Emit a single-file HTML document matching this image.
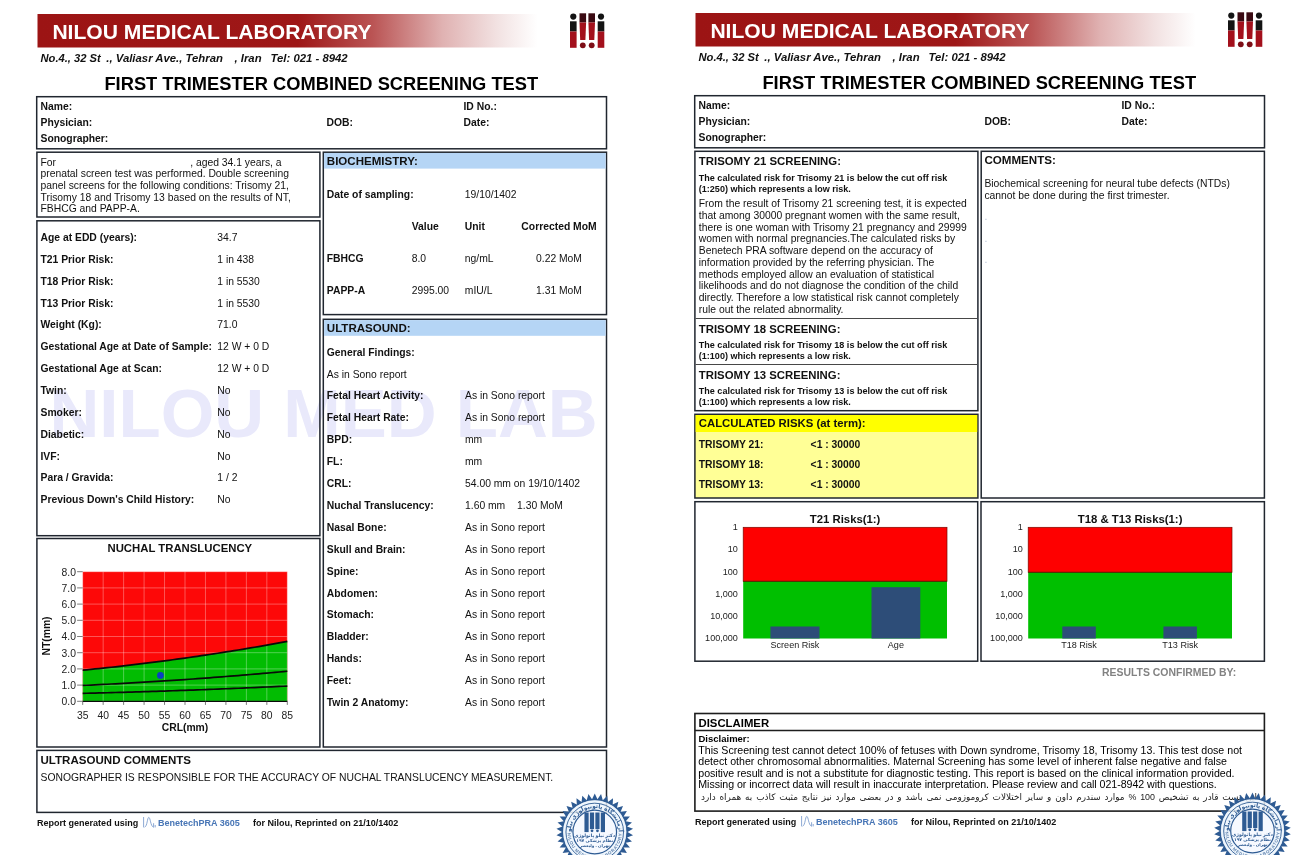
<!DOCTYPE html>
<html lang="en">
<head>
<meta charset="utf-8">
<title>First Trimester Combined Screening Test</title>
<style>
html,body{margin:0;padding:0;background:#fff;}
body{width:1300px;height:855px;position:relative;overflow:hidden;font-family:"Liberation Sans", "DejaVu Sans", sans-serif;color:#111;}
svg.bg{position:absolute;left:0;top:0;}
.t{position:absolute;white-space:pre;margin:0;padding:0;}
</style>
</head>
<body>
<svg class="bg" width="1300" height="855" viewBox="0 0 1300 855">
<defs><linearGradient id="bg1" x1="0" y1="0" x2="1" y2="0"><stop offset="0" stop-color="#9c1414"/><stop offset="0.52" stop-color="#9e1717"/><stop offset="0.67" stop-color="#ba5454"/><stop offset="0.81" stop-color="#e0b2b2"/><stop offset="0.92" stop-color="#f2e2e2"/><stop offset="1" stop-color="#ffffff"/></linearGradient></defs>
<rect x="37.50" y="14.00" width="500" height="33.5" fill="url(#bg1)"/>
<g transform="translate(0,0)"><circle cx="573.3" cy="16.6" r="3.1" fill="#141414"/><rect x="570.0" y="21.3" width="6.6" height="10.2" fill="#141414"/><rect x="570.0" y="31.5" width="6.6" height="16.3" fill="#a3101c"/><circle cx="601.0" cy="16.6" r="3.1" fill="#141414"/><rect x="597.7" y="21.3" width="6.6" height="10.2" fill="#141414"/><rect x="597.7" y="31.5" width="6.6" height="16.3" fill="#a3101c"/><rect x="579.5" y="13.3" width="6.6" height="9.2" fill="#3a0a12"/><path d="M579.5 22.5 H586.0999999999999 L585.4 40 H580.1999999999999 Z" fill="#a3101c"/><circle cx="582.8" cy="45.3" r="2.9" fill="#7d0d16"/><rect x="588.4000000000001" y="13.3" width="6.6" height="9.2" fill="#3a0a12"/><path d="M588.4000000000001 22.5 H595.0 L594.3000000000001 40 H589.1 Z" fill="#a3101c"/><circle cx="591.7" cy="45.3" r="2.9" fill="#7d0d16"/></g>
<rect x="36.70" y="96.70" width="569.80" height="52.10" fill="none" stroke="#20262f" stroke-width="1.5"/>
<text x="49.5" y="436.5" font-family='"Liberation Sans", "DejaVu Sans", sans-serif' font-size="69" font-weight="bold" fill="#e9e9fb">NILOU MED LAB</text>
<rect x="36.90" y="152.20" width="283.00" height="64.80" fill="none" stroke="#20262f" stroke-width="1.5"/>
<rect x="36.90" y="220.80" width="283.00" height="314.90" fill="none" stroke="#20262f" stroke-width="1.5"/>
<rect x="36.90" y="538.50" width="283.00" height="208.50" fill="none" stroke="#20262f" stroke-width="1.5"/>
<rect x="82.70" y="571.70" width="204.60" height="129.60" fill="#fd0808"/>
<path d="M82.70 670.20 L86.79 669.80 L90.88 669.39 L94.98 668.97 L99.07 668.55 L103.16 668.12 L107.25 667.69 L111.34 667.24 L115.44 666.79 L119.53 666.34 L123.62 665.87 L127.71 665.40 L131.80 664.92 L135.90 664.43 L139.99 663.94 L144.08 663.44 L148.17 662.93 L152.26 662.42 L156.36 661.90 L160.45 661.37 L164.54 660.83 L168.63 660.29 L172.72 659.74 L176.82 659.18 L180.91 658.62 L185.00 658.05 L189.09 657.47 L193.18 656.88 L197.28 656.29 L201.37 655.69 L205.46 655.08 L209.55 654.47 L213.64 653.85 L217.74 653.22 L221.83 652.58 L225.92 651.94 L230.01 651.29 L234.10 650.63 L238.20 649.97 L242.29 649.30 L246.38 648.62 L250.47 647.93 L254.56 647.24 L258.66 646.54 L262.75 645.83 L266.84 645.12 L270.93 644.40 L275.02 643.67 L279.12 642.93 L283.21 642.19 L287.30 641.44 L287.30 701.30 L82.70 701.30 Z" fill="#02bc02"/>
<line x1="82.70" y1="571.70" x2="82.70" y2="701.30" stroke="rgba(255,255,255,0.45)" stroke-width="0.7"/>
<line x1="103.16" y1="571.70" x2="103.16" y2="701.30" stroke="rgba(255,255,255,0.45)" stroke-width="0.7"/>
<line x1="123.62" y1="571.70" x2="123.62" y2="701.30" stroke="rgba(255,255,255,0.45)" stroke-width="0.7"/>
<line x1="144.08" y1="571.70" x2="144.08" y2="701.30" stroke="rgba(255,255,255,0.45)" stroke-width="0.7"/>
<line x1="164.54" y1="571.70" x2="164.54" y2="701.30" stroke="rgba(255,255,255,0.45)" stroke-width="0.7"/>
<line x1="185.00" y1="571.70" x2="185.00" y2="701.30" stroke="rgba(255,255,255,0.45)" stroke-width="0.7"/>
<line x1="205.46" y1="571.70" x2="205.46" y2="701.30" stroke="rgba(255,255,255,0.45)" stroke-width="0.7"/>
<line x1="225.92" y1="571.70" x2="225.92" y2="701.30" stroke="rgba(255,255,255,0.45)" stroke-width="0.7"/>
<line x1="246.38" y1="571.70" x2="246.38" y2="701.30" stroke="rgba(255,255,255,0.45)" stroke-width="0.7"/>
<line x1="266.84" y1="571.70" x2="266.84" y2="701.30" stroke="rgba(255,255,255,0.45)" stroke-width="0.7"/>
<line x1="287.30" y1="571.70" x2="287.30" y2="701.30" stroke="rgba(255,255,255,0.45)" stroke-width="0.7"/>
<line x1="82.70" y1="701.30" x2="287.30" y2="701.30" stroke="rgba(255,255,255,0.45)" stroke-width="0.7"/>
<line x1="82.70" y1="685.10" x2="287.30" y2="685.10" stroke="rgba(255,255,255,0.45)" stroke-width="0.7"/>
<line x1="82.70" y1="668.90" x2="287.30" y2="668.90" stroke="rgba(255,255,255,0.45)" stroke-width="0.7"/>
<line x1="82.70" y1="652.70" x2="287.30" y2="652.70" stroke="rgba(255,255,255,0.45)" stroke-width="0.7"/>
<line x1="82.70" y1="636.50" x2="287.30" y2="636.50" stroke="rgba(255,255,255,0.45)" stroke-width="0.7"/>
<line x1="82.70" y1="620.30" x2="287.30" y2="620.30" stroke="rgba(255,255,255,0.45)" stroke-width="0.7"/>
<line x1="82.70" y1="604.10" x2="287.30" y2="604.10" stroke="rgba(255,255,255,0.45)" stroke-width="0.7"/>
<line x1="82.70" y1="587.90" x2="287.30" y2="587.90" stroke="rgba(255,255,255,0.45)" stroke-width="0.7"/>
<line x1="82.70" y1="571.70" x2="287.30" y2="571.70" stroke="rgba(255,255,255,0.45)" stroke-width="0.7"/>
<path d="M82.70 670.20 L86.79 669.80 L90.88 669.39 L94.98 668.97 L99.07 668.55 L103.16 668.12 L107.25 667.69 L111.34 667.24 L115.44 666.79 L119.53 666.34 L123.62 665.87 L127.71 665.40 L131.80 664.92 L135.90 664.43 L139.99 663.94 L144.08 663.44 L148.17 662.93 L152.26 662.42 L156.36 661.90 L160.45 661.37 L164.54 660.83 L168.63 660.29 L172.72 659.74 L176.82 659.18 L180.91 658.62 L185.00 658.05 L189.09 657.47 L193.18 656.88 L197.28 656.29 L201.37 655.69 L205.46 655.08 L209.55 654.47 L213.64 653.85 L217.74 653.22 L221.83 652.58 L225.92 651.94 L230.01 651.29 L234.10 650.63 L238.20 649.97 L242.29 649.30 L246.38 648.62 L250.47 647.93 L254.56 647.24 L258.66 646.54 L262.75 645.83 L266.84 645.12 L270.93 644.40 L275.02 643.67 L279.12 642.93 L283.21 642.19 L287.30 641.44" fill="none" stroke="#0a0a0a" stroke-width="1.7"/>
<path d="M82.70 685.42 L86.79 685.24 L90.88 685.04 L94.98 684.85 L99.07 684.65 L103.16 684.44 L107.25 684.24 L111.34 684.02 L115.44 683.81 L119.53 683.59 L123.62 683.37 L127.71 683.14 L131.80 682.91 L135.90 682.67 L139.99 682.43 L144.08 682.19 L148.17 681.95 L152.26 681.70 L156.36 681.44 L160.45 681.18 L164.54 680.92 L168.63 680.65 L172.72 680.38 L176.82 680.11 L180.91 679.83 L185.00 679.55 L189.09 679.27 L193.18 678.98 L197.28 678.68 L201.37 678.39 L205.46 678.09 L209.55 677.78 L213.64 677.47 L217.74 677.16 L221.83 676.84 L225.92 676.52 L230.01 676.20 L234.10 675.87 L238.20 675.54 L242.29 675.20 L246.38 674.86 L250.47 674.52 L254.56 674.17 L258.66 673.82 L262.75 673.46 L266.84 673.10 L270.93 672.74 L275.02 672.37 L279.12 672.00 L283.21 671.63 L287.30 671.25" fill="none" stroke="#0a0a0a" stroke-width="1.7"/>
<path d="M82.70 693.36 L86.79 693.26 L90.88 693.16 L94.98 693.06 L99.07 692.96 L103.16 692.85 L107.25 692.74 L111.34 692.63 L115.44 692.52 L119.53 692.41 L123.62 692.29 L127.71 692.18 L131.80 692.06 L135.90 691.93 L139.99 691.81 L144.08 691.69 L148.17 691.56 L152.26 691.43 L156.36 691.30 L160.45 691.16 L164.54 691.03 L168.63 690.89 L172.72 690.75 L176.82 690.61 L180.91 690.47 L185.00 690.32 L189.09 690.18 L193.18 690.03 L197.28 689.88 L201.37 689.73 L205.46 689.57 L209.55 689.41 L213.64 689.26 L217.74 689.10 L221.83 688.93 L225.92 688.77 L230.01 688.60 L234.10 688.43 L238.20 688.26 L242.29 688.09 L246.38 687.92 L250.47 687.74 L254.56 687.56 L258.66 687.39 L262.75 687.20 L266.84 687.02 L270.93 686.83 L275.02 686.65 L279.12 686.46 L283.21 686.27 L287.30 686.07" fill="none" stroke="#0a0a0a" stroke-width="1.7"/>
<line x1="82.70" y1="701.30" x2="287.30" y2="701.30" stroke="#0a0a0a" stroke-width="1.2"/>
<circle cx="160.45" cy="675.38" r="3.4" fill="#0a3fc4"/>
<line x1="82.70" y1="701.30" x2="82.70" y2="704.90" stroke="#444" stroke-width="0.7"/>
<line x1="103.16" y1="701.30" x2="103.16" y2="704.90" stroke="#444" stroke-width="0.7"/>
<line x1="123.62" y1="701.30" x2="123.62" y2="704.90" stroke="#444" stroke-width="0.7"/>
<line x1="144.08" y1="701.30" x2="144.08" y2="704.90" stroke="#444" stroke-width="0.7"/>
<line x1="164.54" y1="701.30" x2="164.54" y2="704.90" stroke="#444" stroke-width="0.7"/>
<line x1="185.00" y1="701.30" x2="185.00" y2="704.90" stroke="#444" stroke-width="0.7"/>
<line x1="205.46" y1="701.30" x2="205.46" y2="704.90" stroke="#444" stroke-width="0.7"/>
<line x1="225.92" y1="701.30" x2="225.92" y2="704.90" stroke="#444" stroke-width="0.7"/>
<line x1="246.38" y1="701.30" x2="246.38" y2="704.90" stroke="#444" stroke-width="0.7"/>
<line x1="266.84" y1="701.30" x2="266.84" y2="704.90" stroke="#444" stroke-width="0.7"/>
<line x1="287.30" y1="701.30" x2="287.30" y2="704.90" stroke="#444" stroke-width="0.7"/>
<line x1="77.10" y1="701.30" x2="82.70" y2="701.30" stroke="#444" stroke-width="0.7"/>
<line x1="77.10" y1="685.10" x2="82.70" y2="685.10" stroke="#444" stroke-width="0.7"/>
<line x1="77.10" y1="668.90" x2="82.70" y2="668.90" stroke="#444" stroke-width="0.7"/>
<line x1="77.10" y1="652.70" x2="82.70" y2="652.70" stroke="#444" stroke-width="0.7"/>
<line x1="77.10" y1="636.50" x2="82.70" y2="636.50" stroke="#444" stroke-width="0.7"/>
<line x1="77.10" y1="620.30" x2="82.70" y2="620.30" stroke="#444" stroke-width="0.7"/>
<line x1="77.10" y1="604.10" x2="82.70" y2="604.10" stroke="#444" stroke-width="0.7"/>
<line x1="77.10" y1="587.90" x2="82.70" y2="587.90" stroke="#444" stroke-width="0.7"/>
<line x1="77.10" y1="571.70" x2="82.70" y2="571.70" stroke="#444" stroke-width="0.7"/>
<rect x="323.30" y="152.20" width="283.20" height="162.40" fill="#fff" stroke="#20262f" stroke-width="1.5"/>
<rect x="324.10" y="153.00" width="281.60" height="15.60" fill="#b5d5f5"/>
<rect x="323.30" y="319.30" width="283.20" height="427.70" fill="none" stroke="#20262f" stroke-width="1.5"/>
<rect x="324.10" y="320.10" width="281.60" height="15.70" fill="#b5d5f5"/>
<rect x="36.90" y="750.40" width="569.60" height="62.00" fill="none" stroke="#20262f" stroke-width="1.5"/>
<g transform="translate(0,0)" fill="none" stroke="#7f9fcf" stroke-width="0.9"><path d="M143.6 817 V827.4"/><path d="M144.6 827.2 C147.4 826.2 147.2 817.4 148.8 817.4 C150.4 817.4 150.4 826 153.4 827.2"/><path d="M153.6 823.2 V827.4 M155.2 825 V827.4"/></g>
<defs><linearGradient id="bg2" x1="0" y1="0" x2="1" y2="0"><stop offset="0" stop-color="#9c1414"/><stop offset="0.52" stop-color="#9e1717"/><stop offset="0.67" stop-color="#ba5454"/><stop offset="0.81" stop-color="#e0b2b2"/><stop offset="0.92" stop-color="#f2e2e2"/><stop offset="1" stop-color="#ffffff"/></linearGradient></defs>
<rect x="695.50" y="13.00" width="500" height="33.5" fill="url(#bg2)"/>
<g transform="translate(658,-1)"><circle cx="573.3" cy="16.6" r="3.1" fill="#141414"/><rect x="570.0" y="21.3" width="6.6" height="10.2" fill="#141414"/><rect x="570.0" y="31.5" width="6.6" height="16.3" fill="#a3101c"/><circle cx="601.0" cy="16.6" r="3.1" fill="#141414"/><rect x="597.7" y="21.3" width="6.6" height="10.2" fill="#141414"/><rect x="597.7" y="31.5" width="6.6" height="16.3" fill="#a3101c"/><rect x="579.5" y="13.3" width="6.6" height="9.2" fill="#3a0a12"/><path d="M579.5 22.5 H586.0999999999999 L585.4 40 H580.1999999999999 Z" fill="#a3101c"/><circle cx="582.8" cy="45.3" r="2.9" fill="#7d0d16"/><rect x="588.4000000000001" y="13.3" width="6.6" height="9.2" fill="#3a0a12"/><path d="M588.4000000000001 22.5 H595.0 L594.3000000000001 40 H589.1 Z" fill="#a3101c"/><circle cx="591.7" cy="45.3" r="2.9" fill="#7d0d16"/></g>
<rect x="694.70" y="95.70" width="569.80" height="52.10" fill="none" stroke="#20262f" stroke-width="1.5"/>
<rect x="694.90" y="151.30" width="283.00" height="259.40" fill="none" stroke="#20262f" stroke-width="1.5"/>
<line x1="695.50" y1="318.50" x2="977.20" y2="318.50" stroke="#474747" stroke-width="1"/>
<line x1="695.50" y1="364.50" x2="977.20" y2="364.50" stroke="#474747" stroke-width="1"/>
<rect x="694.90" y="414.30" width="283.00" height="83.70" fill="#ffff96" stroke="#20262f" stroke-width="1.5"/>
<rect x="695.60" y="415.00" width="281.60" height="17.00" fill="#ffff00"/>
<rect x="981.20" y="151.30" width="283.20" height="346.70" fill="none" stroke="#20262f" stroke-width="1.5"/>
<rect x="694.90" y="501.70" width="282.80" height="159.50" fill="none" stroke="#20262f" stroke-width="1.5"/>
<rect x="743.20" y="527.30" width="203.80" height="54.00" fill="#fe0000" stroke="#7a0a00" stroke-width="0.7"/>
<rect x="743.20" y="581.30" width="203.80" height="57.20" fill="#00bf00"/>
<line x1="743.20" y1="581.30" x2="947.00" y2="581.30" stroke="#5a1a00" stroke-width="1.0"/>
<rect x="770.40" y="626.50" width="49.10" height="12.00" fill="#2d4d78"/>
<rect x="871.50" y="587.20" width="48.80" height="51.30" fill="#2d4d78"/>
<rect x="981.00" y="501.70" width="283.40" height="159.50" fill="none" stroke="#20262f" stroke-width="1.5"/>
<rect x="1028.20" y="527.30" width="203.80" height="45.00" fill="#fe0000" stroke="#7a0a00" stroke-width="0.7"/>
<rect x="1028.20" y="572.30" width="203.80" height="66.20" fill="#00bf00"/>
<line x1="1028.20" y1="572.30" x2="1232.00" y2="572.30" stroke="#5a1a00" stroke-width="1.0"/>
<rect x="1062.30" y="626.50" width="33.50" height="12.00" fill="#2d4d78"/>
<rect x="1163.40" y="626.50" width="33.50" height="12.00" fill="#2d4d78"/>
<rect x="694.90" y="713.50" width="569.50" height="97.60" fill="none" stroke="#1d1d1d" stroke-width="1.6"/>
<line x1="694.90" y1="730.60" x2="1264.40" y2="730.60" stroke="#1d1d1d" stroke-width="1.5"/>
<g transform="translate(658,-1)" fill="none" stroke="#7f9fcf" stroke-width="0.9"><path d="M143.6 817 V827.4"/><path d="M144.6 827.2 C147.4 826.2 147.2 817.4 148.8 817.4 C150.4 817.4 150.4 826 153.4 827.2"/><path d="M153.6 823.2 V827.4 M155.2 825 V827.4"/></g>
</svg>
<div class="t" style="top:20px;font-size:21.1px;line-height:23px;font-weight:bold;color:#fff;left:52.40px;">NILOU MEDICAL LABORATORY</div>
<div class="t" style="top:52px;font-size:11.2px;line-height:12px;font-weight:bold;left:40.50px;font-style:italic;">No.4., 32 St</div>
<div class="t" style="top:52px;font-size:11.35px;line-height:12px;font-weight:bold;left:106.30px;font-style:italic;">., Valiasr Ave., Tehran</div>
<div class="t" style="top:52px;font-size:11.35px;line-height:12px;font-weight:bold;left:234.50px;font-style:italic;">, Iran</div>
<div class="t" style="top:52px;font-size:11.35px;line-height:12px;font-weight:bold;left:270.50px;font-style:italic;">Tel: 021 - 8942</div>
<div class="t" style="top:73px;font-size:18.3px;line-height:21px;font-weight:bold;color:#000;left:21.30px;width:600px;text-align:center;">FIRST TRIMESTER COMBINED SCREENING TEST</div>
<div class="t" style="top:101px;font-size:10.35px;line-height:11px;font-weight:bold;left:40.50px;">Name:</div>
<div class="t" style="top:117px;font-size:10.35px;line-height:11px;font-weight:bold;left:40.50px;">Physician:</div>
<div class="t" style="top:133px;font-size:10.35px;line-height:11px;font-weight:bold;left:40.50px;">Sonographer:</div>
<div class="t" style="top:117px;font-size:10.35px;line-height:11px;font-weight:bold;left:326.50px;">DOB:</div>
<div class="t" style="top:101px;font-size:10.35px;line-height:11px;font-weight:bold;left:463.50px;">ID No.:</div>
<div class="t" style="top:117px;font-size:10.35px;line-height:11px;font-weight:bold;left:463.50px;">Date:</div>
<div class="t" style="top:157px;font-size:10.35px;line-height:11px;left:40.50px;">For</div>
<div class="t" style="top:157px;font-size:10.35px;line-height:11px;left:190.20px;">, aged 34.1 years, a</div>
<div class="t" style="top:168px;font-size:10.35px;line-height:11px;left:40.50px;">prenatal screen test was performed. Double screening</div>
<div class="t" style="top:180px;font-size:10.35px;line-height:11px;left:40.50px;">panel screens for the following conditions: Trisomy 21,</div>
<div class="t" style="top:192px;font-size:10.35px;line-height:11px;left:40.50px;">Trisomy 18 and Trisomy 13 based on the results of NT,</div>
<div class="t" style="top:203px;font-size:10.35px;line-height:11px;left:40.50px;">FBHCG and PAPP-A.</div>
<div class="t" style="top:232px;font-size:10.35px;line-height:11px;font-weight:bold;left:40.50px;">Age at EDD (years):</div>
<div class="t" style="top:232px;font-size:10.35px;line-height:11px;left:217.30px;">34.7</div>
<div class="t" style="top:254px;font-size:10.35px;line-height:11px;font-weight:bold;left:40.50px;">T21 Prior Risk:</div>
<div class="t" style="top:254px;font-size:10.35px;line-height:11px;left:217.30px;">1 in 438</div>
<div class="t" style="top:276px;font-size:10.35px;line-height:11px;font-weight:bold;left:40.50px;">T18 Prior Risk:</div>
<div class="t" style="top:276px;font-size:10.35px;line-height:11px;left:217.30px;">1 in 5530</div>
<div class="t" style="top:298px;font-size:10.35px;line-height:11px;font-weight:bold;left:40.50px;">T13 Prior Risk:</div>
<div class="t" style="top:298px;font-size:10.35px;line-height:11px;left:217.30px;">1 in 5530</div>
<div class="t" style="top:319px;font-size:10.35px;line-height:11px;font-weight:bold;left:40.50px;">Weight (Kg):</div>
<div class="t" style="top:319px;font-size:10.35px;line-height:11px;left:217.30px;">71.0</div>
<div class="t" style="top:341px;font-size:10.35px;line-height:11px;font-weight:bold;left:40.50px;">Gestational Age at Date of Sample:</div>
<div class="t" style="top:341px;font-size:10.35px;line-height:11px;left:217.30px;">12 W + 0 D</div>
<div class="t" style="top:363px;font-size:10.35px;line-height:11px;font-weight:bold;left:40.50px;">Gestational Age at Scan:</div>
<div class="t" style="top:363px;font-size:10.35px;line-height:11px;left:217.30px;">12 W + 0 D</div>
<div class="t" style="top:385px;font-size:10.35px;line-height:11px;font-weight:bold;left:40.50px;">Twin:</div>
<div class="t" style="top:385px;font-size:10.35px;line-height:11px;left:217.30px;">No</div>
<div class="t" style="top:407px;font-size:10.35px;line-height:11px;font-weight:bold;left:40.50px;">Smoker:</div>
<div class="t" style="top:407px;font-size:10.35px;line-height:11px;left:217.30px;">No</div>
<div class="t" style="top:429px;font-size:10.35px;line-height:11px;font-weight:bold;left:40.50px;">Diabetic:</div>
<div class="t" style="top:429px;font-size:10.35px;line-height:11px;left:217.30px;">No</div>
<div class="t" style="top:451px;font-size:10.35px;line-height:11px;font-weight:bold;left:40.50px;">IVF:</div>
<div class="t" style="top:451px;font-size:10.35px;line-height:11px;left:217.30px;">No</div>
<div class="t" style="top:472px;font-size:10.35px;line-height:11px;font-weight:bold;left:40.50px;">Para / Gravida:</div>
<div class="t" style="top:472px;font-size:10.35px;line-height:11px;left:217.30px;">1 / 2</div>
<div class="t" style="top:494px;font-size:10.35px;line-height:11px;font-weight:bold;left:40.50px;">Previous Down's Child History:</div>
<div class="t" style="top:494px;font-size:10.35px;line-height:11px;left:217.30px;">No</div>
<div class="t" style="top:542px;font-size:11.35px;line-height:12px;font-weight:bold;left:-120.20px;width:600px;text-align:center;">NUCHAL TRANSLUCENCY</div>
<div class="t" style="top:710px;font-size:10.35px;line-height:11px;color:#222;left:-217.30px;width:600px;text-align:center;">35</div>
<div class="t" style="top:710px;font-size:10.35px;line-height:11px;color:#222;left:-196.84px;width:600px;text-align:center;">40</div>
<div class="t" style="top:710px;font-size:10.35px;line-height:11px;color:#222;left:-176.38px;width:600px;text-align:center;">45</div>
<div class="t" style="top:710px;font-size:10.35px;line-height:11px;color:#222;left:-155.92px;width:600px;text-align:center;">50</div>
<div class="t" style="top:710px;font-size:10.35px;line-height:11px;color:#222;left:-135.46px;width:600px;text-align:center;">55</div>
<div class="t" style="top:710px;font-size:10.35px;line-height:11px;color:#222;left:-115.00px;width:600px;text-align:center;">60</div>
<div class="t" style="top:710px;font-size:10.35px;line-height:11px;color:#222;left:-94.54px;width:600px;text-align:center;">65</div>
<div class="t" style="top:710px;font-size:10.35px;line-height:11px;color:#222;left:-74.08px;width:600px;text-align:center;">70</div>
<div class="t" style="top:710px;font-size:10.35px;line-height:11px;color:#222;left:-53.62px;width:600px;text-align:center;">75</div>
<div class="t" style="top:710px;font-size:10.35px;line-height:11px;color:#222;left:-33.16px;width:600px;text-align:center;">80</div>
<div class="t" style="top:710px;font-size:10.35px;line-height:11px;color:#222;left:-12.70px;width:600px;text-align:center;">85</div>
<div class="t" style="top:696px;font-size:10.35px;line-height:11px;color:#222;left:-224.00px;width:300px;text-align:right;">0.0</div>
<div class="t" style="top:680px;font-size:10.35px;line-height:11px;color:#222;left:-224.00px;width:300px;text-align:right;">1.0</div>
<div class="t" style="top:664px;font-size:10.35px;line-height:11px;color:#222;left:-224.00px;width:300px;text-align:right;">2.0</div>
<div class="t" style="top:648px;font-size:10.35px;line-height:11px;color:#222;left:-224.00px;width:300px;text-align:right;">3.0</div>
<div class="t" style="top:631px;font-size:10.35px;line-height:11px;color:#222;left:-224.00px;width:300px;text-align:right;">4.0</div>
<div class="t" style="top:615px;font-size:10.35px;line-height:11px;color:#222;left:-224.00px;width:300px;text-align:right;">5.0</div>
<div class="t" style="top:599px;font-size:10.35px;line-height:11px;color:#222;left:-224.00px;width:300px;text-align:right;">6.0</div>
<div class="t" style="top:583px;font-size:10.35px;line-height:11px;color:#222;left:-224.00px;width:300px;text-align:right;">7.0</div>
<div class="t" style="top:567px;font-size:10.35px;line-height:11px;color:#222;left:-224.00px;width:300px;text-align:right;">8.0</div>
<div class="t" style="top:722px;font-size:10.35px;line-height:11px;font-weight:bold;left:-115.00px;width:600px;text-align:center;">CRL(mm)</div>
<div class="t" style="left:-3.1000000000000014px;top:630px;width:100px;text-align:center;font-size:10.35px;line-height:12px;font-weight:bold;transform:rotate(-90deg);">NT(mm)</div>
<div class="t" style="top:155px;font-size:11.55px;line-height:12px;font-weight:bold;left:326.80px;">BIOCHEMISTRY:</div>
<div class="t" style="top:189px;font-size:10.35px;line-height:11px;font-weight:bold;left:326.80px;">Date of sampling:</div>
<div class="t" style="top:189px;font-size:10.35px;line-height:11px;left:464.80px;">19/10/1402</div>
<div class="t" style="top:221px;font-size:10.35px;line-height:11px;font-weight:bold;left:411.70px;">Value</div>
<div class="t" style="top:221px;font-size:10.35px;line-height:11px;font-weight:bold;left:464.80px;">Unit</div>
<div class="t" style="top:221px;font-size:10.35px;line-height:11px;font-weight:bold;left:259.00px;width:600px;text-align:center;">Corrected MoM</div>
<div class="t" style="top:253px;font-size:10.35px;line-height:11px;font-weight:bold;left:326.80px;">FBHCG</div>
<div class="t" style="top:253px;font-size:10.35px;line-height:11px;left:411.70px;">8.0</div>
<div class="t" style="top:253px;font-size:10.35px;line-height:11px;left:464.80px;">ng/mL</div>
<div class="t" style="top:253px;font-size:10.35px;line-height:11px;left:259.00px;width:600px;text-align:center;">0.22 MoM</div>
<div class="t" style="top:285px;font-size:10.35px;line-height:11px;font-weight:bold;left:326.80px;">PAPP-A</div>
<div class="t" style="top:285px;font-size:10.35px;line-height:11px;left:411.70px;">2995.00</div>
<div class="t" style="top:285px;font-size:10.35px;line-height:11px;left:464.80px;">mIU/L</div>
<div class="t" style="top:285px;font-size:10.35px;line-height:11px;left:259.00px;width:600px;text-align:center;">1.31 MoM</div>
<div class="t" style="top:322px;font-size:11.55px;line-height:12px;font-weight:bold;left:326.80px;">ULTRASOUND:</div>
<div class="t" style="top:347px;font-size:10.35px;line-height:11px;font-weight:bold;left:326.80px;">General Findings:</div>
<div class="t" style="top:369px;font-size:10.35px;line-height:11px;left:326.80px;">As in Sono report</div>
<div class="t" style="top:390px;font-size:10.35px;line-height:11px;font-weight:bold;left:326.80px;">Fetal Heart Activity:</div>
<div class="t" style="top:390px;font-size:10.35px;line-height:11px;left:465.00px;">As in Sono report</div>
<div class="t" style="top:412px;font-size:10.35px;line-height:11px;font-weight:bold;left:326.80px;">Fetal Heart Rate:</div>
<div class="t" style="top:412px;font-size:10.35px;line-height:11px;left:465.00px;">As in Sono report</div>
<div class="t" style="top:434px;font-size:10.35px;line-height:11px;font-weight:bold;left:326.80px;">BPD:</div>
<div class="t" style="top:434px;font-size:10.35px;line-height:11px;left:465.00px;">mm</div>
<div class="t" style="top:456px;font-size:10.35px;line-height:11px;font-weight:bold;left:326.80px;">FL:</div>
<div class="t" style="top:456px;font-size:10.35px;line-height:11px;left:465.00px;">mm</div>
<div class="t" style="top:478px;font-size:10.35px;line-height:11px;font-weight:bold;left:326.80px;">CRL:</div>
<div class="t" style="top:478px;font-size:10.35px;line-height:11px;left:465.00px;">54.00 mm on 19/10/1402</div>
<div class="t" style="top:500px;font-size:10.35px;line-height:11px;font-weight:bold;left:326.80px;">Nuchal Translucency:</div>
<div class="t" style="top:500px;font-size:10.35px;line-height:11px;left:465.00px;">1.60 mm</div>
<div class="t" style="top:522px;font-size:10.35px;line-height:11px;font-weight:bold;left:326.80px;">Nasal Bone:</div>
<div class="t" style="top:522px;font-size:10.35px;line-height:11px;left:465.00px;">As in Sono report</div>
<div class="t" style="top:544px;font-size:10.35px;line-height:11px;font-weight:bold;left:326.80px;">Skull and Brain:</div>
<div class="t" style="top:544px;font-size:10.35px;line-height:11px;left:465.00px;">As in Sono report</div>
<div class="t" style="top:566px;font-size:10.35px;line-height:11px;font-weight:bold;left:326.80px;">Spine:</div>
<div class="t" style="top:566px;font-size:10.35px;line-height:11px;left:465.00px;">As in Sono report</div>
<div class="t" style="top:588px;font-size:10.35px;line-height:11px;font-weight:bold;left:326.80px;">Abdomen:</div>
<div class="t" style="top:588px;font-size:10.35px;line-height:11px;left:465.00px;">As in Sono report</div>
<div class="t" style="top:609px;font-size:10.35px;line-height:11px;font-weight:bold;left:326.80px;">Stomach:</div>
<div class="t" style="top:609px;font-size:10.35px;line-height:11px;left:465.00px;">As in Sono report</div>
<div class="t" style="top:631px;font-size:10.35px;line-height:11px;font-weight:bold;left:326.80px;">Bladder:</div>
<div class="t" style="top:631px;font-size:10.35px;line-height:11px;left:465.00px;">As in Sono report</div>
<div class="t" style="top:653px;font-size:10.35px;line-height:11px;font-weight:bold;left:326.80px;">Hands:</div>
<div class="t" style="top:653px;font-size:10.35px;line-height:11px;left:465.00px;">As in Sono report</div>
<div class="t" style="top:675px;font-size:10.35px;line-height:11px;font-weight:bold;left:326.80px;">Feet:</div>
<div class="t" style="top:675px;font-size:10.35px;line-height:11px;left:465.00px;">As in Sono report</div>
<div class="t" style="top:697px;font-size:10.35px;line-height:11px;font-weight:bold;left:326.80px;">Twin 2 Anatomy:</div>
<div class="t" style="top:697px;font-size:10.35px;line-height:11px;left:465.00px;">As in Sono report</div>
<div class="t" style="top:500px;font-size:10.35px;line-height:11px;left:517.00px;">1.30 MoM</div>
<div class="t" style="top:754px;font-size:11.55px;line-height:12px;font-weight:bold;left:40.50px;">ULTRASOUND COMMENTS</div>
<div class="t" style="top:772px;font-size:10.35px;line-height:11px;left:40.50px;">SONOGRAPHER IS RESPONSIBLE FOR THE ACCURACY OF NUCHAL TRANSLUCENCY MEASUREMENT.</div>
<div class="t" style="top:818px;font-size:9.03px;line-height:10px;font-weight:bold;left:37.00px;">Report generated using</div>
<div class="t" style="top:818px;font-size:9.03px;line-height:10px;font-weight:bold;color:#4876b6;left:158.00px;">BenetechPRA 3605</div>
<div class="t" style="top:818px;font-size:9.03px;line-height:10px;font-weight:bold;left:253.00px;">for Nilou, Reprinted on 21/10/1402</div>
<div class="t" style="top:19px;font-size:21.1px;line-height:23px;font-weight:bold;color:#fff;left:710.40px;">NILOU MEDICAL LABORATORY</div>
<div class="t" style="top:51px;font-size:11.2px;line-height:12px;font-weight:bold;left:698.50px;font-style:italic;">No.4., 32 St</div>
<div class="t" style="top:51px;font-size:11.35px;line-height:12px;font-weight:bold;left:764.30px;font-style:italic;">., Valiasr Ave., Tehran</div>
<div class="t" style="top:51px;font-size:11.35px;line-height:12px;font-weight:bold;left:892.50px;font-style:italic;">, Iran</div>
<div class="t" style="top:51px;font-size:11.35px;line-height:12px;font-weight:bold;left:928.50px;font-style:italic;">Tel: 021 - 8942</div>
<div class="t" style="top:72px;font-size:18.3px;line-height:21px;font-weight:bold;color:#000;left:679.30px;width:600px;text-align:center;">FIRST TRIMESTER COMBINED SCREENING TEST</div>
<div class="t" style="top:100px;font-size:10.35px;line-height:11px;font-weight:bold;left:698.50px;">Name:</div>
<div class="t" style="top:116px;font-size:10.35px;line-height:11px;font-weight:bold;left:698.50px;">Physician:</div>
<div class="t" style="top:132px;font-size:10.35px;line-height:11px;font-weight:bold;left:698.50px;">Sonographer:</div>
<div class="t" style="top:116px;font-size:10.35px;line-height:11px;font-weight:bold;left:984.50px;">DOB:</div>
<div class="t" style="top:100px;font-size:10.35px;line-height:11px;font-weight:bold;left:1121.50px;">ID No.:</div>
<div class="t" style="top:116px;font-size:10.35px;line-height:11px;font-weight:bold;left:1121.50px;">Date:</div>
<div class="t" style="top:155px;font-size:11.4px;line-height:12px;font-weight:bold;left:698.80px;">TRISOMY 21 SCREENING:</div>
<div class="t" style="top:173px;font-size:9.04px;line-height:10px;font-weight:bold;left:698.80px;">The calculated risk for Trisomy 21 is below the cut off risk</div>
<div class="t" style="top:184px;font-size:9.04px;line-height:10px;font-weight:bold;left:698.80px;">(1:250) which represents a low risk.</div>
<div class="t" style="top:198px;font-size:10.35px;line-height:11px;left:698.80px;">From the result of Trisomy 21 screening test, it is expected</div>
<div class="t" style="top:210px;font-size:10.35px;line-height:11px;left:698.80px;">that among 30000 pregnant women with the same result,</div>
<div class="t" style="top:222px;font-size:10.35px;line-height:11px;left:698.80px;">there is one woman with Trisomy 21 pregnancy and 29999</div>
<div class="t" style="top:233px;font-size:10.35px;line-height:11px;left:698.80px;">women with normal pregnancies.The calculated risks by</div>
<div class="t" style="top:245px;font-size:10.35px;line-height:11px;left:698.80px;">Benetech PRA software depend on the accuracy of</div>
<div class="t" style="top:257px;font-size:10.35px;line-height:11px;left:698.80px;">information provided by the referring physician. The</div>
<div class="t" style="top:269px;font-size:10.35px;line-height:11px;left:698.80px;">methods employed allow an evaluation of statistical</div>
<div class="t" style="top:280px;font-size:10.35px;line-height:11px;left:698.80px;">likelihoods and do not diagnose the condition of the child</div>
<div class="t" style="top:292px;font-size:10.35px;line-height:11px;left:698.80px;">directly. Therefore a low statistical risk cannot completely</div>
<div class="t" style="top:304px;font-size:10.35px;line-height:11px;left:698.80px;">rule out the related abnormality.</div>
<div class="t" style="top:323px;font-size:11.35px;line-height:12px;font-weight:bold;left:698.80px;">TRISOMY 18 SCREENING:</div>
<div class="t" style="top:340px;font-size:9.04px;line-height:10px;font-weight:bold;left:698.80px;">The calculated risk for Trisomy 18 is below the cut off risk</div>
<div class="t" style="top:351px;font-size:9.04px;line-height:10px;font-weight:bold;left:698.80px;">(1:100) which represents a low risk.</div>
<div class="t" style="top:369px;font-size:11.35px;line-height:12px;font-weight:bold;left:698.80px;">TRISOMY 13 SCREENING:</div>
<div class="t" style="top:386px;font-size:9.04px;line-height:10px;font-weight:bold;left:698.80px;">The calculated risk for Trisomy 13 is below the cut off risk</div>
<div class="t" style="top:397px;font-size:9.04px;line-height:10px;font-weight:bold;left:698.80px;">(1:100) which represents a low risk.</div>
<div class="t" style="top:417px;font-size:11.35px;line-height:12px;font-weight:bold;left:698.80px;">CALCULATED RISKS (at term):</div>
<div class="t" style="top:439px;font-size:10.35px;line-height:11px;font-weight:bold;left:698.80px;">TRISOMY 21:</div>
<div class="t" style="top:439px;font-size:10.35px;line-height:11px;font-weight:bold;left:810.60px;">&lt;1 : 30000</div>
<div class="t" style="top:459px;font-size:10.35px;line-height:11px;font-weight:bold;left:698.80px;">TRISOMY 18:</div>
<div class="t" style="top:459px;font-size:10.35px;line-height:11px;font-weight:bold;left:810.60px;">&lt;1 : 30000</div>
<div class="t" style="top:479px;font-size:10.35px;line-height:11px;font-weight:bold;left:698.80px;">TRISOMY 13:</div>
<div class="t" style="top:479px;font-size:10.35px;line-height:11px;font-weight:bold;left:810.60px;">&lt;1 : 30000</div>
<div class="t" style="top:154px;font-size:11.6px;line-height:12px;font-weight:bold;left:984.40px;">COMMENTS:</div>
<div class="t" style="top:178px;font-size:10.35px;line-height:11px;left:984.40px;">Biochemical screening for neural tube defects (NTDs)</div>
<div class="t" style="top:190px;font-size:10.35px;line-height:11px;left:984.40px;">cannot be done during the first trimester.</div>
<div class="t" style="top:211px;font-size:10.35px;line-height:11px;color:#b8c4d8;left:984.60px;">.</div>
<div class="t" style="top:233px;font-size:10.35px;line-height:11px;color:#b8c4d8;left:984.60px;">.</div>
<div class="t" style="top:254px;font-size:10.35px;line-height:11px;color:#b8c4d8;left:984.60px;">.</div>
<div class="t" style="top:513px;font-size:11.35px;line-height:12px;font-weight:bold;left:545.10px;width:600px;text-align:center;">T21 Risks(1:)</div>
<div class="t" style="top:640px;font-size:9.05px;line-height:10px;color:#222;left:494.95px;width:600px;text-align:center;">Screen Risk</div>
<div class="t" style="top:640px;font-size:9.05px;line-height:10px;color:#222;left:595.90px;width:600px;text-align:center;">Age</div>
<div class="t" style="top:522px;font-size:9.05px;line-height:10px;color:#222;left:437.80px;width:300px;text-align:right;">1</div>
<div class="t" style="top:544px;font-size:9.05px;line-height:10px;color:#222;left:437.80px;width:300px;text-align:right;">10</div>
<div class="t" style="top:567px;font-size:9.05px;line-height:10px;color:#222;left:437.80px;width:300px;text-align:right;">100</div>
<div class="t" style="top:589px;font-size:9.05px;line-height:10px;color:#222;left:437.80px;width:300px;text-align:right;">1,000</div>
<div class="t" style="top:611px;font-size:9.05px;line-height:10px;color:#222;left:437.80px;width:300px;text-align:right;">10,000</div>
<div class="t" style="top:633px;font-size:9.05px;line-height:10px;color:#222;left:437.80px;width:300px;text-align:right;">100,000</div>
<div class="t" style="top:513px;font-size:11.35px;line-height:12px;font-weight:bold;left:830.10px;width:600px;text-align:center;">T18 &amp; T13 Risks(1:)</div>
<div class="t" style="top:640px;font-size:9.05px;line-height:10px;color:#222;left:779.05px;width:600px;text-align:center;">T18 Risk</div>
<div class="t" style="top:640px;font-size:9.05px;line-height:10px;color:#222;left:880.15px;width:600px;text-align:center;">T13 Risk</div>
<div class="t" style="top:522px;font-size:9.05px;line-height:10px;color:#222;left:722.80px;width:300px;text-align:right;">1</div>
<div class="t" style="top:544px;font-size:9.05px;line-height:10px;color:#222;left:722.80px;width:300px;text-align:right;">10</div>
<div class="t" style="top:567px;font-size:9.05px;line-height:10px;color:#222;left:722.80px;width:300px;text-align:right;">100</div>
<div class="t" style="top:589px;font-size:9.05px;line-height:10px;color:#222;left:722.80px;width:300px;text-align:right;">1,000</div>
<div class="t" style="top:611px;font-size:9.05px;line-height:10px;color:#222;left:722.80px;width:300px;text-align:right;">10,000</div>
<div class="t" style="top:633px;font-size:9.05px;line-height:10px;color:#222;left:722.80px;width:300px;text-align:right;">100,000</div>
<div class="t" style="top:667px;font-size:10.45px;line-height:11px;font-weight:bold;color:#828282;left:1102.00px;">RESULTS CONFIRMED BY:</div>
<div class="t" style="top:717px;font-size:11.35px;line-height:12px;font-weight:bold;color:#000;left:698.50px;">DISCLAIMER</div>
<div class="t" style="top:733px;font-size:9.5px;line-height:11px;font-weight:bold;color:#000;left:698.50px;">Disclaimer:</div>
<div class="t" style="top:744px;font-size:10.63px;line-height:12px;color:#000;left:698.30px;">This Screening test cannot detect 100% of fetuses with Down syndrome, Trisomy 18, Trisomy 13. This test dose not</div>
<div class="t" style="top:755px;font-size:10.63px;line-height:12px;color:#000;left:698.30px;">detect other chromosomal abnormalities. Maternal Screening has some level of inherent false negative and false</div>
<div class="t" style="top:767px;font-size:10.63px;line-height:12px;color:#000;left:698.30px;letter-spacing:-0.033px;">positive result and is not a substitute for diagnostic testing. This report is based on the clinical information provided.</div>
<div class="t" style="top:778px;font-size:10.63px;line-height:12px;color:#000;left:698.30px;letter-spacing:-0.042px;">Missing or incorrect data will result in inaccurate interpretation. Please review and call 021-8942 with questions.</div>
<div class="t" dir="rtl" style="left:657px;top:791px;width:600px;text-align:right;direction:rtl;font-size:8.9px;word-spacing:1.36px;line-height:12px;color:#222;font-family:'Liberation Sans','DejaVu Sans',sans-serif;">این تست قادر به تشخیص 100 % موارد سندرم داون و سایر اختلالات کروموزومی نمی باشد و در بعضی موارد نیز نتایج مثبت کاذب به همراه دارد</div>
<div class="t" style="top:817px;font-size:9.03px;line-height:10px;font-weight:bold;left:695.00px;">Report generated using</div>
<div class="t" style="top:817px;font-size:9.03px;line-height:10px;font-weight:bold;color:#4876b6;left:816.00px;">BenetechPRA 3605</div>
<div class="t" style="top:817px;font-size:9.03px;line-height:10px;font-weight:bold;left:911.00px;">for Nilou, Reprinted on 21/10/1402</div>
<svg class="bg" width="1300" height="855" viewBox="0 0 1300 855">
<path d="M594.75,793.60 L597.46,799.31 L601.07,794.12 L602.80,800.20 L607.22,795.68 L607.93,801.96 L613.03,798.23 L612.69,804.54 L618.34,801.70 L616.96,807.87 L623.00,805.99 L620.63,811.85 L626.90,811.00 L623.60,816.39 L629.92,816.57 L625.77,821.35 L631.97,822.57 L627.10,826.60 L633.02,828.83 L627.55,832.00 L633.02,835.17 L627.10,837.40 L631.97,841.43 L625.77,842.65 L629.92,847.43 L623.60,847.61 L626.90,853.00 L620.63,852.15 L623.00,858.01 L616.96,856.13 L618.34,862.30 L612.69,859.46 L613.03,865.77 L607.93,862.04 L607.22,868.32 L602.80,863.80 L601.07,869.88 L597.46,864.69 L594.75,870.40 L592.04,864.69 L588.43,869.88 L586.70,863.80 L582.28,868.32 L581.57,862.04 L576.47,865.77 L576.81,859.46 L571.16,862.30 L572.54,856.13 L566.50,858.01 L568.87,852.15 L562.60,853.00 L565.90,847.61 L559.58,847.43 L563.73,842.65 L557.53,841.43 L562.40,837.40 L556.48,835.17 L561.95,832.00 L556.48,828.83 L562.40,826.60 L557.53,822.57 L563.73,821.35 L559.58,816.57 L565.90,816.39 L562.60,811.00 L568.87,811.85 L566.50,805.99 L572.54,807.87 L571.16,801.70 L576.81,804.54 L576.47,798.23 L581.57,801.96 L582.28,795.68 L586.70,800.20 L588.43,794.12 L592.04,799.31 Z M563.35 832 A31.4 31.4 0 1 0 626.15 832 A31.4 31.4 0 1 0 563.35 832 Z" fill="#2e5b93" fill-rule="evenodd"/>
<circle cx="594.75" cy="832" r="31.7" fill="rgba(236,244,253,0.84)"/>
<circle cx="594.75" cy="832" r="28.8" fill="none" stroke="#2e5b93" stroke-width="0.9"/>
<circle cx="594.75" cy="832" r="21.8" fill="rgba(246,250,255,0.9)" stroke="#2e5b93" stroke-width="1.2"/>
<defs><path id="st1" d="M570.75 832 A24.0 24.0 0 0 1 618.75 832"/></defs>
<text font-family='"Liberation Sans", "DejaVu Sans", sans-serif' font-size="5.8" font-weight="bold" fill="#2e5b93" text-anchor="middle" direction="rtl"><textPath href="#st1" startOffset="50%">آزمایشگاه پاتوبیولوژی نیلو</textPath></text>
<defs><path id="st1b" d="M567.55 832 A27.2 27.2 0 0 0 621.95 832"/></defs>
<text font-family='"Liberation Sans", "DejaVu Sans", sans-serif' font-size="4.4" font-weight="bold" fill="#2e5b93" fill-opacity="0.75" text-anchor="middle" letter-spacing="0.7"><textPath href="#st1b" startOffset="50%">NILOU MEDICAL LABORATORY</textPath></text>
<rect x="584.45" y="812.50" width="4.2" height="19.6" fill="#2e5b93"/>
<rect x="589.90" y="812.50" width="4.2" height="16.6" fill="#2e5b93"/>
<rect x="595.35" y="812.50" width="4.2" height="16.6" fill="#2e5b93"/>
<rect x="600.80" y="812.50" width="4.2" height="19.6" fill="#2e5b93"/>
<circle cx="592.00" cy="830.80" r="1.4" fill="#2e5b93"/>
<circle cx="597.45" cy="830.80" r="1.4" fill="#2e5b93"/>
<text x="594.75" y="837.0" font-family='"Liberation Sans", "DejaVu Sans", sans-serif' font-size="4.7" font-weight="bold" fill="#2e5b93" text-anchor="middle" direction="rtl">دکتر نیلو پاتولوژی</text>
<text x="594.75" y="842.0" font-family='"Liberation Sans", "DejaVu Sans", sans-serif' font-size="4.4" font-weight="bold" fill="#2e5b93" text-anchor="middle" direction="rtl">نظام پزشکی ۱۹۷</text>
<text x="594.75" y="847.0" font-family='"Liberation Sans", "DejaVu Sans", sans-serif' font-size="4.1000000000000005" font-weight="bold" fill="#2e5b93" text-anchor="middle" direction="rtl">تهران - ولیعصر</text>
<path d="M1252.50,792.60 L1255.21,798.31 L1258.82,793.12 L1260.55,799.20 L1264.97,794.68 L1265.68,800.96 L1270.78,797.23 L1270.44,803.54 L1276.09,800.70 L1274.71,806.87 L1280.75,804.99 L1278.38,810.85 L1284.65,810.00 L1281.35,815.39 L1287.67,815.57 L1283.52,820.35 L1289.72,821.57 L1284.85,825.60 L1290.77,827.83 L1285.30,831.00 L1290.77,834.17 L1284.85,836.40 L1289.72,840.43 L1283.52,841.65 L1287.67,846.43 L1281.35,846.61 L1284.65,852.00 L1278.38,851.15 L1280.75,857.01 L1274.71,855.13 L1276.09,861.30 L1270.44,858.46 L1270.78,864.77 L1265.68,861.04 L1264.97,867.32 L1260.55,862.80 L1258.82,868.88 L1255.21,863.69 L1252.50,869.40 L1249.79,863.69 L1246.18,868.88 L1244.45,862.80 L1240.03,867.32 L1239.32,861.04 L1234.22,864.77 L1234.56,858.46 L1228.91,861.30 L1230.29,855.13 L1224.25,857.01 L1226.62,851.15 L1220.35,852.00 L1223.65,846.61 L1217.33,846.43 L1221.48,841.65 L1215.28,840.43 L1220.15,836.40 L1214.23,834.17 L1219.70,831.00 L1214.23,827.83 L1220.15,825.60 L1215.28,821.57 L1221.48,820.35 L1217.33,815.57 L1223.65,815.39 L1220.35,810.00 L1226.62,810.85 L1224.25,804.99 L1230.29,806.87 L1228.91,800.70 L1234.56,803.54 L1234.22,797.23 L1239.32,800.96 L1240.03,794.68 L1244.45,799.20 L1246.18,793.12 L1249.79,798.31 Z M1221.1 831 A31.4 31.4 0 1 0 1283.9 831 A31.4 31.4 0 1 0 1221.1 831 Z" fill="#2e5b93" fill-rule="evenodd"/>
<circle cx="1252.5" cy="831" r="31.7" fill="rgba(236,244,253,0.84)"/>
<circle cx="1252.5" cy="831" r="28.8" fill="none" stroke="#2e5b93" stroke-width="0.9"/>
<circle cx="1252.5" cy="831" r="21.8" fill="rgba(246,250,255,0.9)" stroke="#2e5b93" stroke-width="1.2"/>
<defs><path id="st2" d="M1228.5 831 A24.0 24.0 0 0 1 1276.5 831"/></defs>
<text font-family='"Liberation Sans", "DejaVu Sans", sans-serif' font-size="5.8" font-weight="bold" fill="#2e5b93" text-anchor="middle" direction="rtl"><textPath href="#st2" startOffset="50%">آزمایشگاه پاتوبیولوژی نیلو</textPath></text>
<defs><path id="st2b" d="M1225.3 831 A27.2 27.2 0 0 0 1279.7 831"/></defs>
<text font-family='"Liberation Sans", "DejaVu Sans", sans-serif' font-size="4.4" font-weight="bold" fill="#2e5b93" fill-opacity="0.75" text-anchor="middle" letter-spacing="0.7"><textPath href="#st2b" startOffset="50%">NILOU MEDICAL LABORATORY</textPath></text>
<rect x="1242.20" y="811.50" width="4.2" height="19.6" fill="#2e5b93"/>
<rect x="1247.65" y="811.50" width="4.2" height="16.6" fill="#2e5b93"/>
<rect x="1253.10" y="811.50" width="4.2" height="16.6" fill="#2e5b93"/>
<rect x="1258.55" y="811.50" width="4.2" height="19.6" fill="#2e5b93"/>
<circle cx="1249.75" cy="829.80" r="1.4" fill="#2e5b93"/>
<circle cx="1255.20" cy="829.80" r="1.4" fill="#2e5b93"/>
<text x="1252.5" y="836.0" font-family='"Liberation Sans", "DejaVu Sans", sans-serif' font-size="4.7" font-weight="bold" fill="#2e5b93" text-anchor="middle" direction="rtl">دکتر نیلو پاتولوژی</text>
<text x="1252.5" y="841.0" font-family='"Liberation Sans", "DejaVu Sans", sans-serif' font-size="4.4" font-weight="bold" fill="#2e5b93" text-anchor="middle" direction="rtl">نظام پزشکی ۱۹۷</text>
<text x="1252.5" y="846.0" font-family='"Liberation Sans", "DejaVu Sans", sans-serif' font-size="4.1000000000000005" font-weight="bold" fill="#2e5b93" text-anchor="middle" direction="rtl">تهران - ولیعصر</text>
</svg>
</body>
</html>
